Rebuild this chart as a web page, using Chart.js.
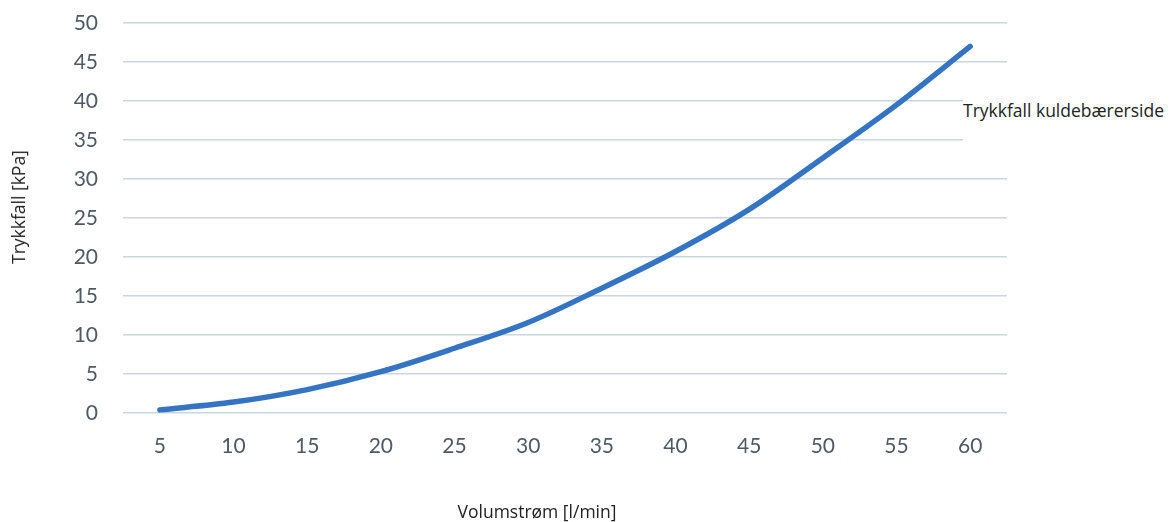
<!DOCTYPE html>
<html>
<head>
<meta charset="utf-8">
<script src="https://cdn.jsdelivr.net/npm/chart.js@4.4.1/dist/chart.umd.min.js"></script>
<style>
    body { margin: 0; background: #fff; }
    #wrap { position: relative; width: 1170px; height: 522px; }
    .txt { position: absolute; font-family: "Open Sans", sans-serif; color: #222; white-space: nowrap; }
    #ytitle { left: 18px; top: 207px; font-size: 17.5px; transform: translate(-50%, -50%) rotate(-90deg); }
    #xtitle { left: 537px; top: 511px; font-size: 17.5px; transform: translate(-50%, -50%); }
    #legend { left: 963px; top: 82px; height: 62px; width: 207px; background: #fff; font-size: 17.5px; line-height: 56px; }
</style>
</head>
<body>
<div id="wrap">
    <canvas id="lineChart" width="1170" height="522"></canvas>
    <div class="txt" id="ytitle">Trykkfall [kPa]</div>
    <div class="txt" id="xtitle">Volumstrøm [l/min]</div>
    <div class="txt" id="legend">Trykkfall kuldebærerside</div>
</div>
<script>
// volumstrøm (l/min)
const flow = ['5', '10', '15', '20', '25', '30', '35', '40', '45', '50', '55', '60'];
// trykkfall (kPa)
const pressureDrop = [0.4, 1.4, 3.0, 5.3, 8.3, 11.6, 16.0, 20.7, 26.1, 32.7, 39.5, 47.0];
const yTicks = [0, 5, 10, 15, 20, 25, 30, 35, 40, 45, 50];

const tickColor = '#4c5a65';
const gridColor = '#c9d6df';

const config = {
    type: 'line',
    data: {
        labels: flow,
        datasets: [{
            label: 'Trykkfall kuldebærerside',
            data: pressureDrop,
            borderColor: '#3574c2',
            borderWidth: 5.5,
            borderCapStyle: 'round',
            pointRadius: 0,
            cubicInterpolationMode: 'monotone',
            fill: false
        }]
    },
    options: {
        responsive: false,
        animation: false,
        layout: { padding: { top: 23, right: 163, left: 0, bottom: 0 } },
        plugins: {
            legend: { display: false },
            tooltip: { enabled: false }
        },
        scales: {
            x: {
                offset: true,
                grid: { display: false, drawTicks: false },
                border: { display: false },
                ticks: { color: tickColor, padding: 21, font: { family: 'Lato', size: 21 } },
                afterFit: (s) => { s.height = 109; }
            },
            y: {
                min: 0,
                max: 50,
                afterBuildTicks: (s) => { s.ticks = yTicks.map(v => ({ value: v })); },
                grid: { color: gridColor, lineWidth: 1.6, drawTicks: false },
                border: { display: false },
                ticks: { color: tickColor, padding: 25, font: { family: 'Lato', size: 21 } },
                afterFit: (s) => { s.width = 123; s.paddingTop = 0; s.paddingBottom = 0; }
            }
        }
    }
};

new Chart(document.getElementById('lineChart'), config);
</script>
</body>
</html>
